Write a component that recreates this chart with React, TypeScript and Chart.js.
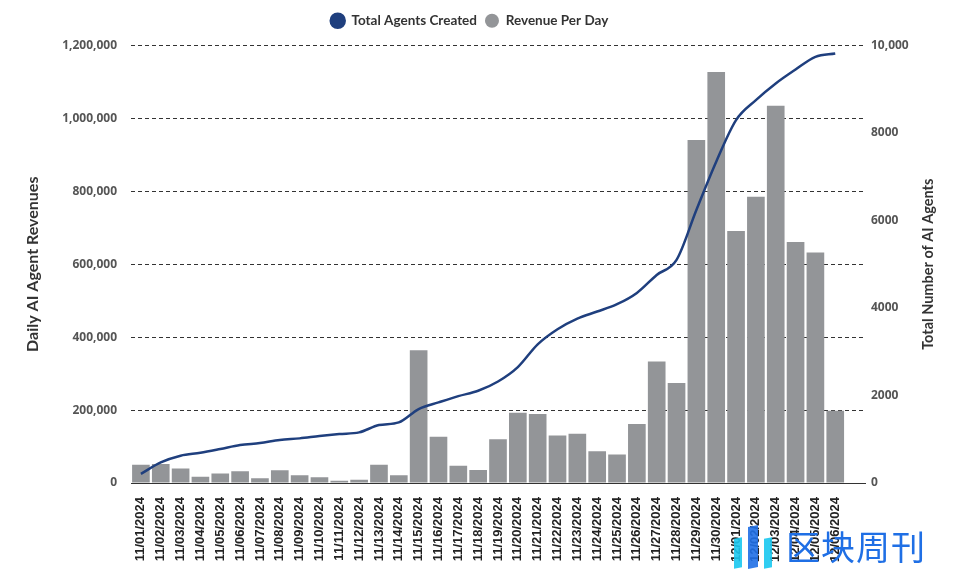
import React, { useEffect, useRef } from "react";
import { Chart, registerables } from "chart.js";

Chart.register(...registerables);

const dates: string[] = [
  "11/01/2024", "11/02/2024", "11/03/2024", "11/04/2024", "11/05/2024", "11/06/2024",
  "11/07/2024", "11/08/2024", "11/09/2024", "11/10/2024", "11/11/2024", "11/12/2024",
  "11/13/2024", "11/14/2024", "11/15/2024", "11/16/2024", "11/17/2024", "11/18/2024",
  "11/19/2024", "11/20/2024", "11/21/2024", "11/22/2024", "11/23/2024", "11/24/2024",
  "11/25/2024", "11/26/2024", "11/27/2024", "11/28/2024", "11/29/2024", "11/30/2024",
  "12/01/2024", "12/02/2024", "12/03/2024", "12/04/2024", "12/05/2024", "12/06/2024",
  "",
];

const revenuePerDay: (number | null)[] = [
  50000, 52000, 40000, 17000, 26000, 32000, 13000, 35000, 21000, 16000, 6000, 9000,
  50000, 21000, 364000, 127000, 47000, 36000, 120000, 193000, 189000, 130000, 135000, 87000,
  78000, 162000, 333000, 274000, 941000, 1127000, 691000, 785000, 1035000, 661000, 632000, 198000,
  null,
];

const totalAgents: (number | null)[] = [
  210, 470, 624, 690, 776, 868, 913, 982, 1020, 1073, 1119, 1157,
  1324, 1385, 1690, 1842, 1986, 2108, 2320, 2650, 3170, 3516, 3759, 3919,
  4087, 4345, 4756, 5099, 6240, 7344, 8295, 8751, 9132, 9451, 9741, 9817,
  null,
];

const leftTicks: number[] = [0, 200000, 400000, 600000, 800000, 1000000, 1200000];
const rightTicks: number[] = [0, 2000, 4000, 6000, 8000, 10000];
const rightTickLabels: string[] = ["0", "2000", "4000", "6000", "8000", "10,000"];
const rightTitle = "Total Number of AI Agents";

const NAVY = "#1f3f7e";
const GRAY = "#939598";

const rightTitlePlugin = {
  id: "rightTitle",
  afterInit(chart: any) {
    const legend = chart.legend;
    if (legend && !legend.__patched) {
      const orig = legend.fit.bind(legend);
      legend.fit = () => {
        orig();
        legend.height += 8;
      };
      legend.__patched = true;
    }
  },
  afterLayout(chart: any) {
    const legend = chart.legend;
    if (legend) {
      legend.left -= 14;
      legend.right -= 14;
    }
  },
  afterDraw(chart: any) {
    const { ctx, chartArea } = chart;
    const x = chart.width - 39;
    const y = (chartArea.top + chartArea.bottom) / 2;
    ctx.save();
    ctx.translate(x, y);
    ctx.rotate(-Math.PI / 2);
    ctx.font = "bold 14.5px Lato";
    ctx.fillStyle = "#333";
    ctx.textAlign = "center";
    ctx.textBaseline = "middle";
    ctx.fillText(rightTitle, 0, 0);
    ctx.restore();
  },
};

export default function App() {
  const ref = useRef<HTMLCanvasElement | null>(null);

  useEffect(() => {
    document.body.style.margin = "0";
    const canvas = ref.current;
    if (!canvas) return;
    const chart = new Chart(canvas, {
      type: "bar",
      data: {
        labels: dates,
        datasets: [
          {
            type: "line",
            label: "Total Agents Created",
            data: totalAgents,
            yAxisID: "yRight",
            borderColor: NAVY,
            backgroundColor: NAVY,
            borderWidth: 2.5,
            pointRadius: 0,
            pointStyle: "circle",
            tension: 0.4,
            cubicInterpolationMode: "monotone",
          } as any,
          {
            type: "bar",
            label: "Revenue Per Day",
            data: revenuePerDay,
            yAxisID: "yLeft",
            backgroundColor: GRAY,
            borderWidth: 0,
            categoryPercentage: 1,
            barPercentage: 0.89,
            pointStyle: "circle",
          } as any,
        ],
      },
      plugins: [rightTitlePlugin],
      options: {
        responsive: false,
        animation: false,
        layout: { padding: { top: 6, left: 0, right: 0, bottom: 0 } },
        plugins: {
          tooltip: { enabled: false },
          legend: {
            position: "top",
            labels: {
              usePointStyle: true,
              pointStyleWidth: 14,
              boxHeight: 10,
              padding: 8,
              color: "#333",
              font: { family: "Lato", size: 13.5, weight: "bold" },
            },
          },
        },
        scales: {
          x: {
            grid: { display: false, drawTicks: false },
            border: { display: true, color: "#333", width: 1 },
            ticks: {
              autoSkip: false,
              minRotation: 90,
              maxRotation: 90,
              padding: 14,
              color: "#222",
              font: { family: "Liberation Sans", size: 13, weight: "bold" },
            },
            afterFit: (s: any) => { s.height = 90; },
          },
          yLeft: {
            position: "left",
            min: 0,
            max: 1200000,
            afterBuildTicks: (s: any) => { s.ticks = leftTicks.map((v) => ({ value: v })); },
            grid: {
              color: "#333",
              lineWidth: 1,
              drawTicks: false,
            },
            border: { display: false, dash: [4, 3] },
            ticks: {
              padding: 14,
              color: "#555",
              font: { family: "Open Sans", size: 12, weight: "bold" },
              callback: (v: any) => Number(v).toLocaleString("en-US"),
            },
            title: {
              display: true,
              text: "Daily AI Agent Revenues",
              color: "#333",
              font: { family: "Lato", size: 16, weight: "bold" },
              padding: { top: 23, bottom: 0 },
            },
            afterFit: (s: any) => { s.width = 131; },
          },
          yRight: {
            position: "right",
            min: 0,
            max: 10000,
            afterBuildTicks: (s: any) => { s.ticks = rightTicks.map((v) => ({ value: v })); },
            grid: { display: false, drawTicks: false },
            border: { display: false },
            ticks: {
              padding: 6,
              color: "#555",
              font: { family: "Open Sans", size: 12, weight: "bold" },
              callback: (v: any) => {
                const i = rightTicks.indexOf(Number(v));
                return i >= 0 ? rightTickLabels[i] : String(v);
              },
            },
            afterFit: (s: any) => { s.width = 102; },
          },
        },
      } as any,
    });
    return () => chart.destroy();
  }, []);

  return (
    <div style={{ position: "absolute", left: 0, top: 0, width: 967, height: 573 }}>
      <canvas ref={ref} width={967} height={573} style={{ display: "block" }} />
      <div
        style={{
          position: "absolute",
          left: 734,
          top: 524,
          width: 52,
          height: 44,
          display: "flex",
          gap: 6,
          alignItems: "flex-end",
          pointerEvents: "none",
        }}
      >
        <div style={{ width: 8, height: 30, background: "#19c8ef", transform: "skewY(-12deg)", opacity: 0.9 }} />
        <div style={{ width: 10, height: 42, background: "#1f6fe5", transform: "skewY(-12deg)", opacity: 0.9 }} />
        <div style={{ width: 8, height: 30, background: "#19c8ef", transform: "skewY(-12deg)", opacity: 0.9 }} />
      </div>
      <div
        style={{
          position: "absolute",
          left: 786,
          top: 524,
          fontFamily: "'Noto Sans CJK SC'",
          fontSize: 34,
          lineHeight: "44px",
          color: "#1f6fe5",
          letterSpacing: 1,
          pointerEvents: "none",
        }}
      >
        区块周刊
      </div>
    </div>
  );
}
